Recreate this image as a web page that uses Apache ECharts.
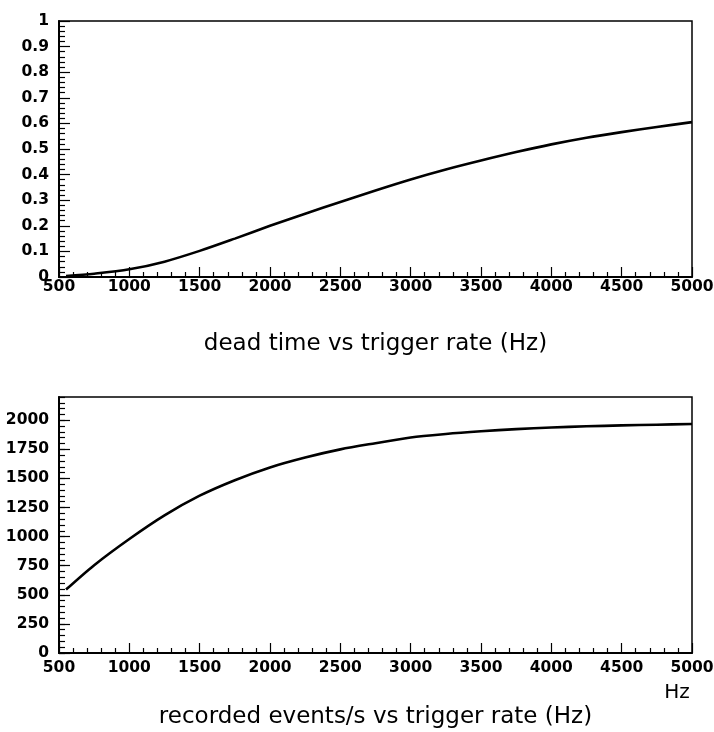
<!DOCTYPE html>
<html>
<head>
<meta charset="utf-8">
<script src="https://cdn.jsdelivr.net/npm/echarts@6/dist/echarts.min.js"></script>
<style>
  html, body { margin: 0; padding: 0; background: #fff; overflow: hidden; }
  #chart { width: 714px; height: 732px; }
</style>
</head>
<body>
<div id="chart"></div>
<script>
// Trigger rate (Hz) sampled along the curves
const triggerRate = [550, 750, 1000, 1250, 1500, 1750, 2000, 2250, 2500, 2750,
                     3000, 3250, 3500, 3750, 4000, 4250, 4500, 4750, 5000];
// Dead-time fraction at each trigger rate
const deadTime = [0.004, 0.013, 0.030, 0.060, 0.102, 0.150, 0.200, 0.247, 0.293, 0.338,
                  0.381, 0.420, 0.455, 0.488, 0.518, 0.544, 0.566, 0.586, 0.605];
// Recorded events per second at each trigger rate
const recordedRate = [545, 755, 980, 1183, 1352, 1485, 1595, 1680, 1750, 1803,
                      1852, 1882, 1905, 1924, 1938, 1948, 1956, 1962, 1968];

const rateAxis = [500, 5000, 500];        // min, max, step
const deadAxis = [0, 1, 0.1];
const recordedAxis = [0, 2200, 250];

const titles = ['dead time vs trigger rate (Hz)', 'recorded events/s vs trigger rate (Hz)'];
const unitLabel = 'Hz';

const labelFont = { fontFamily: 'DejaVu Sans', fontWeight: 'bold', fontSize: 15.5, color: '#000' };
const black = '#000';
const plain = v => String(+v.toFixed(6));

function xAxisCfg(gridIndex, margin) {
  return {
    type: 'value', gridIndex,
    min: rateAxis[0], max: rateAxis[1], interval: rateAxis[2],
    axisLine: { show: true, onZero: false, lineStyle: { color: black, width: 2 } },
    axisTick: { show: true, inside: true, length: 10, lineStyle: { color: black, width: 1.2 } },
    minorTick: { show: true, splitNumber: 5, length: 5, lineStyle: { color: black, width: 1.2 } },
    splitLine: { show: false },
    axisLabel: Object.assign({ margin, formatter: plain }, labelFont)
  };
}

function yMainCfg(gridIndex, range, minorSplit, hideMax) {
  return {
    type: 'value', gridIndex, position: 'left',
    min: range[0], max: range[1], interval: range[2],
    axisLine: { show: true, onZero: false, lineStyle: { color: black, width: 2 } },
    axisTick: { show: true, inside: true, length: 11, lineStyle: { color: black, width: 1.2 } },
    minorTick: { show: minorSplit > 0, splitNumber: minorSplit || 5, length: 6, lineStyle: { color: black, width: 1.2 } },
    splitLine: { show: false },
    axisLabel: Object.assign({ margin: 10, showMaxLabel: !hideMax, formatter: plain }, labelFont)
  };
}

const chart = echarts.init(document.getElementById('chart'), null, { renderer: 'canvas' });

const gridBase = {
  left: 59, right: 22, height: 256, show: true,
  borderColor: black, borderWidth: 1.5, backgroundColor: 'transparent',
  containLabel: false, outerBoundsMode: 'none'
};

chart.setOption({
  backgroundColor: '#fff',
  animation: false,
  grid: [
    Object.assign({ top: 21 }, gridBase),
    Object.assign({ top: 397 }, gridBase)
  ],
  xAxis: [xAxisCfg(0, 2), xAxisCfg(1, 7)],
  yAxis: [
    yMainCfg(0, deadAxis, 5, false),
    yMainCfg(1, recordedAxis, 0, true),
    {
      // finer tick marks every 50 events/s on the lower panel
      type: 'value', gridIndex: 1, position: 'left',
      min: recordedAxis[0], max: recordedAxis[1], interval: 50,
      axisLine: { show: false, onZero: false },
      axisTick: { show: true, inside: true, length: 6, lineStyle: { color: black, width: 1.2 } },
      axisLabel: { show: false },
      splitLine: { show: false }
    }
  ],
  series: [
    {
      type: 'line', xAxisIndex: 0, yAxisIndex: 0,
      data: triggerRate.map((r, i) => [r, deadTime[i]]),
      showSymbol: false, smooth: 0.3,
      lineStyle: { color: black, width: 2.6 }
    },
    {
      type: 'line', xAxisIndex: 1, yAxisIndex: 1,
      data: triggerRate.map((r, i) => [r, recordedRate[i]]),
      showSymbol: false, smooth: 0.3,
      lineStyle: { color: black, width: 2.6 }
    }
  ],
  graphic: [
    {
      type: 'text', x: 375.5, y: 344,
      style: { text: titles[0], font: '23px "DejaVu Sans"', fill: black, textAlign: 'center', textVerticalAlign: 'middle' }
    },
    {
      type: 'text', x: 375.5, y: 717,
      style: { text: titles[1], font: '23px "DejaVu Sans"', fill: black, textAlign: 'center', textVerticalAlign: 'middle' }
    },
    {
      type: 'text', x: 677, y: 693,
      style: { text: unitLabel, font: '20px "DejaVu Sans"', fill: black, textAlign: 'center', textVerticalAlign: 'middle' }
    }
  ]
});
</script>
</body>
</html>
